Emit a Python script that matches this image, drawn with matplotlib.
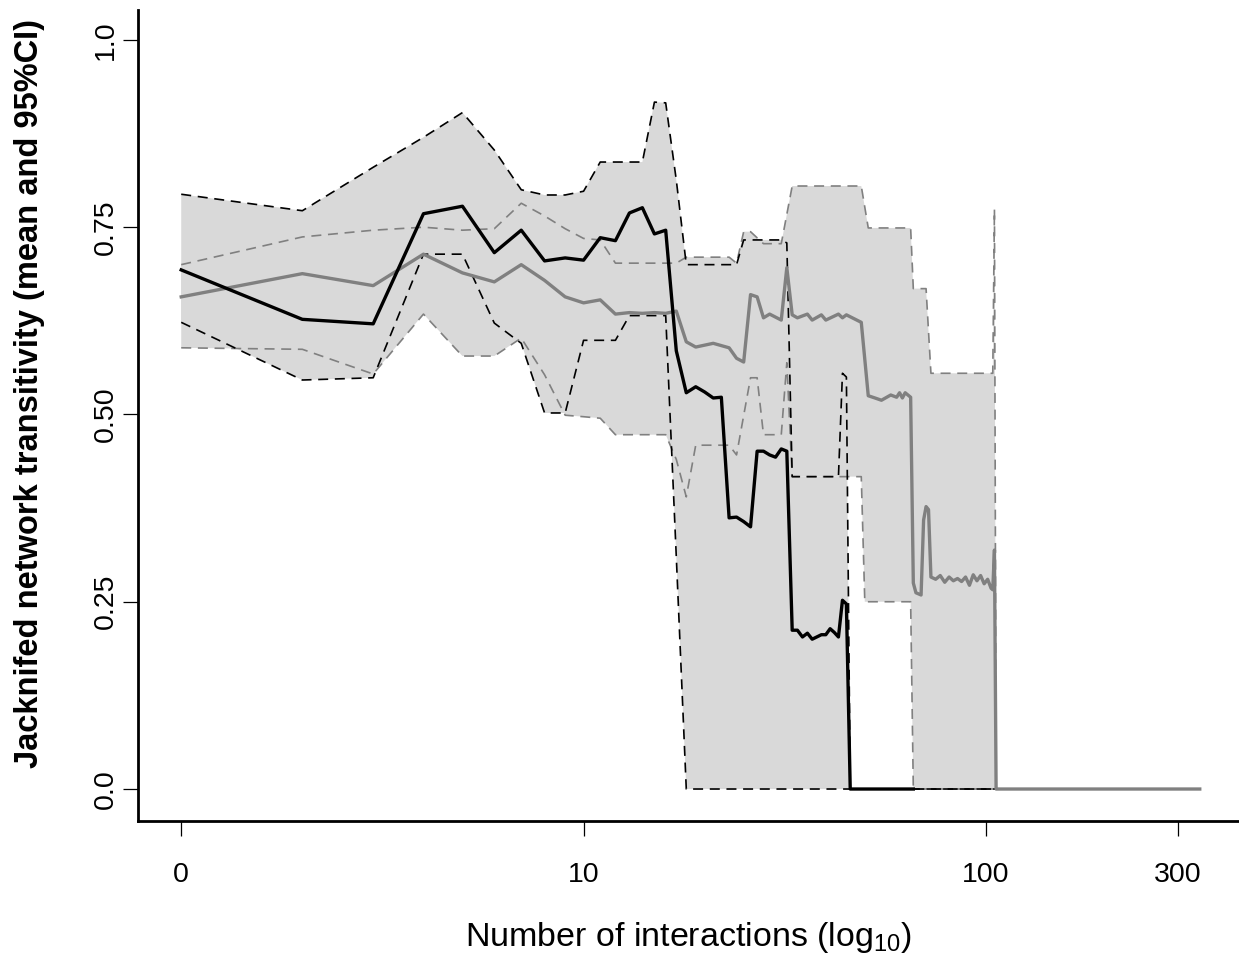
import matplotlib
matplotlib.use('Agg')
import matplotlib.pyplot as plt

plt.rcParams['font.family'] = ['Liberation Sans', 'DejaVu Sans']
plt.rcParams['mathtext.fontset'] = 'custom'
plt.rcParams['mathtext.rm'] = 'Liberation Sans'

# jackknifed transitivity, black group: mean and 95% CI bounds
black_n = [1, 2, 3, 4, 5, 6, 7, 8, 9, 10, 11, 12, 13, 14, 15, 16, 17, 18, 19, 20,
           21, 22, 23, 24, 25, 26, 27, 28, 29, 30, 31, 32, 33, 34, 35, 36, 37, 39,
           40, 41, 42, 43, 44, 45, 46, 66]
black_mean = [0.693, 0.627, 0.621, 0.768, 0.778, 0.716, 0.746, 0.705, 0.709, 0.706,
              0.736, 0.732, 0.769, 0.776, 0.741, 0.746, 0.585, 0.529, 0.537, 0.530,
              0.522, 0.523, 0.362, 0.363, 0.357, 0.350, 0.451, 0.451, 0.446, 0.443,
              0.454, 0.451, 0.212, 0.212, 0.203, 0.208, 0.200, 0.206, 0.206, 0.214,
              0.209, 0.203, 0.252, 0.247, 0.0, 0.0]

black_up_n = [1, 2, 3, 4, 5, 6, 7, 8, 9, 10, 11, 12, 13, 14, 15, 16, 17, 18, 24, 25,
              31, 32, 33, 43, 44, 45, 46, 106]
black_up = [0.794, 0.772, 0.830, 0.870, 0.903, 0.853, 0.800, 0.793, 0.793, 0.798,
            0.837, 0.837, 0.837, 0.837, 0.917, 0.916, 0.813, 0.700, 0.700, 0.733,
            0.733, 0.729, 0.417, 0.417, 0.555, 0.550, 0.0, 0.0]

black_lo_n = [1, 2, 3, 4, 5, 6, 7, 8, 9, 10, 11, 12, 13, 14, 15, 16, 17, 18, 106]
black_lo = [0.623, 0.546, 0.549, 0.714, 0.714, 0.622, 0.595, 0.502, 0.502, 0.599,
            0.599, 0.599, 0.632, 0.632, 0.632, 0.632, 0.310, 0.0, 0.0]

# grey group: mean and 95% CI bounds
grey_n = [1, 2, 3, 4, 5, 6, 7, 8, 9, 10, 11, 12, 13, 14, 15, 16, 17, 18, 19, 21,
          23, 24, 25, 26, 27, 28, 29, 31, 32, 33, 34, 36, 37, 39, 40, 43, 44, 45,
          49, 51, 53, 55, 58, 60, 61, 62, 63, 65, 66, 67, 69, 70, 71, 72, 73, 75,
          77, 79, 81, 83, 85, 87, 89, 91, 93, 95, 97, 99, 101, 103, 104, 105, 106,
          340]
grey_mean = [0.657, 0.688, 0.672, 0.714, 0.689, 0.677, 0.700, 0.679, 0.657, 0.649,
             0.653, 0.634, 0.636, 0.635, 0.636, 0.635, 0.638, 0.597, 0.590, 0.595,
             0.589, 0.575, 0.570, 0.660, 0.657, 0.629, 0.634, 0.626, 0.696, 0.633,
             0.629, 0.634, 0.626, 0.633, 0.626, 0.634, 0.629, 0.633, 0.623, 0.525,
             0.522, 0.519, 0.526, 0.523, 0.529, 0.522, 0.529, 0.523, 0.275, 0.262,
             0.259, 0.359, 0.377, 0.373, 0.283, 0.280, 0.285, 0.276, 0.283, 0.278,
             0.281, 0.277, 0.283, 0.272, 0.286, 0.278, 0.285, 0.274, 0.280, 0.268,
             0.266, 0.319, 0.0, 0.0]

grey_up_n = [1, 2, 3, 4, 5, 6, 7, 8, 9, 10, 11, 12, 17, 18, 23, 24, 25, 26, 28, 31,
             33, 49, 51, 65, 66, 71, 73, 104, 105, 106, 199]
grey_up = [0.700, 0.737, 0.746, 0.750, 0.746, 0.748, 0.782, 0.765, 0.748, 0.735,
           0.733, 0.702, 0.702, 0.710, 0.710, 0.702, 0.744, 0.744, 0.728, 0.728,
           0.805, 0.805, 0.749, 0.749, 0.668, 0.668, 0.555, 0.555, 0.774, 0.0, 0.0]

grey_lo_n = [1, 2, 3, 4, 5, 6, 7, 8, 9, 10, 11, 12, 16, 17, 18, 19, 23, 24, 26, 27,
             28, 31, 32, 33, 49, 50, 65, 66, 199]
grey_lo = [0.589, 0.587, 0.554, 0.634, 0.578, 0.578, 0.602, 0.553, 0.499, 0.497,
           0.495, 0.473, 0.473, 0.440, 0.390, 0.459, 0.459, 0.446, 0.549, 0.549,
           0.473, 0.473, 0.569, 0.417, 0.417, 0.250, 0.250, 0.0, 0.0]

xtick_pos = [1, 10, 100, 300]
xtick_lab = ['0', '10', '100', '300']
ytick_pos = [0.0, 0.25, 0.5, 0.75, 1.0]
ytick_lab = ['0.0', '0.25', '0.50', '0.75', '1.0']

BAND = '#d9d9d9'
GREY = '#808080'

fig = plt.figure(figsize=(12.39, 9.58), dpi=100)
ax = fig.add_axes([0.1114, 0.1430, 0.8886, 0.8466])
ax.set_xscale('log')

# confidence bands as closed polygons (upper forward, lower back)
for up_n, up, lo_n, lo in [(black_up_n, black_up, black_lo_n, black_lo),
                           (grey_up_n, grey_up, grey_lo_n, grey_lo)]:
    ax.fill(up_n + lo_n[::-1], up + lo[::-1], color=BAND, lw=0, zorder=1)

ax.plot(black_up_n, black_up, color='black', lw=1.2, dashes=(6, 4), zorder=3)
ax.plot(black_lo_n, black_lo, color='black', lw=1.2, dashes=(6, 4), zorder=3)
ax.plot(grey_up_n, grey_up, color=GREY, lw=1.2, dashes=(6, 4), zorder=2)
ax.plot(grey_lo_n, grey_lo, color=GREY, lw=1.2, dashes=(6, 4), zorder=2)
ax.plot(grey_n, grey_mean, color=GREY, lw=2.4, zorder=4)
ax.plot(black_n, black_mean, color='black', lw=2.4, zorder=5)

ax.set_xlim(0.781, 425.6)
ax.set_ylim(-0.0427, 1.04)

for s in ['top', 'right']:
    ax.spines[s].set_visible(False)
for s in ['left', 'bottom']:
    ax.spines[s].set_linewidth(2.0)

ax.set_xticks(xtick_pos)
ax.set_xticklabels(xtick_lab)
ax.xaxis.set_minor_locator(matplotlib.ticker.NullLocator())
ax.set_yticks(ytick_pos)
ax.set_yticklabels(ytick_lab, rotation=90, va='center')
ax.tick_params(axis='both', length=11, width=0.9, labelsize=20.5)
ax.tick_params(axis='x', pad=18.5)
ax.tick_params(axis='y', pad=3)

ax.set_xlabel(r'Number of interactions (log$_{\mathrm{10}}$)', fontsize=24.5, labelpad=23)
ax.set_ylabel('Jacknifed network transitivity (mean and 95%CI)', fontsize=23.5,
              fontweight='bold')
ax.yaxis.set_label_coords(-0.0845, 0.5265)

fig.savefig('out.png', dpi=100)
